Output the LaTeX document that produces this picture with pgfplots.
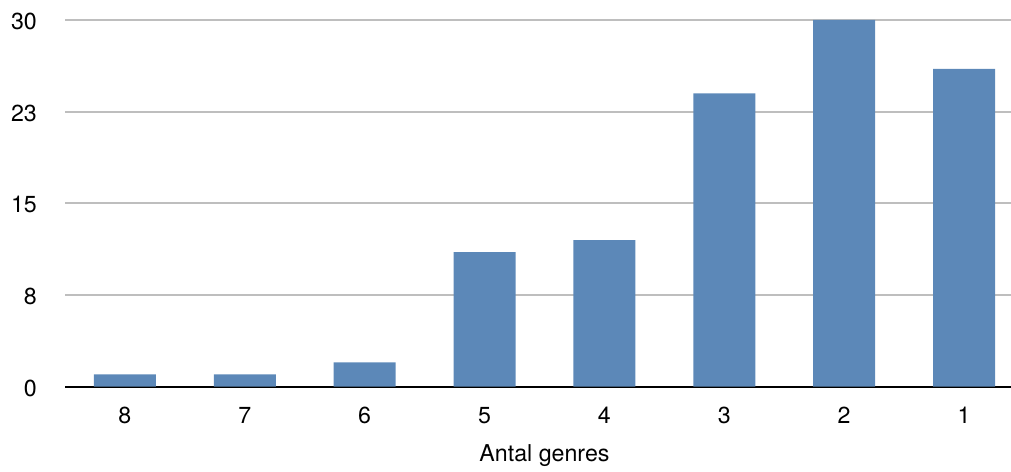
\documentclass[border=0pt]{standalone}
\usepackage{pgfplots}
\pgfplotsset{compat=1.18}
\usepackage{fontspec}
\setmainfont{TeX Gyre Heros}
\definecolor{barblue}{RGB}{92,136,184}
\definecolor{gridgrey}{RGB}{190,190,190}
\begin{document}
\begin{tikzpicture}[x=1pt,y=1pt]
\useasboundingbox (0,0) rectangle (1011,471);
\clip (0,0) rectangle (1011,471);
\begin{axis}[
  at={(65pt,84.3pt)}, anchor=south west,
  scale only axis,
  width=959pt, height=366.7pt,
  xmin=-0.5, xmax=7.5,
  ymin=0, ymax=30,
  axis x line*=bottom,
  axis y line*=left,
  x axis line style={line width=2pt, black, -},
  y axis line style={draw=none},
  ytick={0,7.5,15,22.5,30},
  yticklabels={0,8,15,23,30},
  xtick={0,1,2,3,4,5,6,7},
  xticklabels={8,7,6,5,4,3,2,1},
  major tick length=0pt,
  ymajorgrids,
  grid style={line width=2pt, gridgrey},
  tick label style={font=\fontsize{23.2}{28}\selectfont},
  /pgf/number format/assume math mode=true,
  xticklabel style={anchor=north, inner sep=0pt, yshift=-20pt},
  yticklabel style={anchor=east, inner sep=0pt, xshift=-28pt, yshift=-1.5pt},
  label style={font=\fontsize{23.2}{28}\selectfont},
  xlabel={Antal genres},
  xlabel style={at={(axis description cs:0.5,0)}, anchor=north, inner sep=0pt, yshift=-58pt},
  clip=false,
]
\addplot[ybar, bar width=62pt, fill=barblue, draw=none] coordinates {
 (0,1) (1,1) (2,2) (3,11) (4,12) (5,24) (6,30) (7,26)
};
\end{axis}
\end{tikzpicture}
\end{document}
